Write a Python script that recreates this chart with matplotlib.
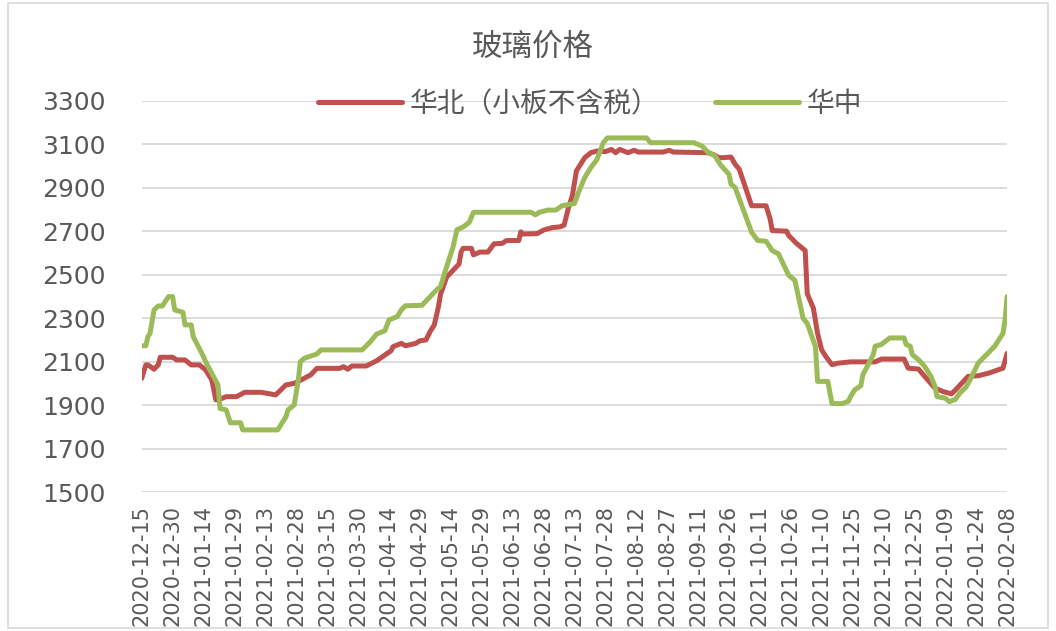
import matplotlib
matplotlib.use("Agg")
import matplotlib.pyplot as plt
from matplotlib.patches import Rectangle

plt.rcParams['font.family'] = ['Noto Sans CJK SC', 'DejaVu Sans']

# x positions: days since 2020-12-15
north_day = [0, 2, 3, 6, 8, 9, 15, 17, 21, 24, 28, 31, 34, 36, 39, 41, 46, 50, 58, 65,
             70, 74, 78, 82, 85, 96, 98, 100, 102, 109, 114, 121, 122, 126, 128, 133,
             135, 138, 140, 142, 144, 145, 148, 151, 154, 155, 156, 160, 161, 164, 168,
             171, 175, 177, 183, 184, 185, 192, 195, 199, 203, 205, 207, 209, 211, 213,
             215, 218, 221, 225, 228, 230, 232, 236, 239, 241, 253, 256, 258, 275, 278,
             280, 282, 286, 288, 290, 296, 303, 305, 306, 313, 314, 318, 322, 323, 326,
             328, 330, 332, 335, 338, 344, 356, 359, 370, 372, 377, 380, 385, 389, 393,
             395, 398, 401, 406, 411, 418, 420]
north_val = [2024, 2086, 2086, 2066, 2086, 2121, 2121, 2109, 2109, 2086, 2086, 2063, 2017,
             1925, 1932, 1940, 1940, 1960, 1960, 1948, 1994, 2001, 2020, 2040, 2070, 2070,
             2078, 2066, 2081, 2081, 2105, 2151, 2170, 2185, 2174, 2185, 2197, 2201, 2240,
             2270, 2354, 2410, 2490, 2520, 2550, 2605, 2622, 2622, 2592, 2605, 2605, 2643,
             2645, 2658, 2658, 2698, 2688, 2690, 2706, 2717, 2721, 2729, 2805, 2865, 2979,
             3009, 3039, 3062, 3070, 3067, 3077, 3062, 3077, 3062, 3073, 3065, 3065, 3073,
             3065, 3062, 3051, 3040, 3039, 3042, 3009, 2986, 2818, 2818, 2757, 2704, 2701,
             2681, 2643, 2612, 2414, 2346, 2231, 2155, 2125, 2087, 2094, 2100, 2100, 2113,
             2113, 2071, 2067, 2033, 1979, 1963, 1953, 1971, 2002, 2033, 2036, 2048, 2071,
             2139]

central_day = [0, 2, 3, 4, 6, 8, 10, 13, 15, 16, 20, 21, 24, 25, 30, 31, 34, 37, 38, 41,
               43, 48, 49, 66, 70, 71, 74, 76, 77, 79, 85, 87, 107, 111, 114, 118, 120,
               124, 126, 128, 136, 140, 143, 145, 148, 151, 153, 156, 159, 161, 189, 191,
               193, 197, 201, 204, 210, 212, 215, 218, 221, 224, 226, 245, 247, 268, 272,
               275, 278, 281, 285, 286, 288, 296, 299, 303, 306, 309, 314, 317, 321, 323,
               327, 328, 333, 335, 340, 343, 344, 346, 349, 350, 353, 355, 356, 359, 363,
               370, 371, 373, 374, 377, 380, 383, 385, 386, 390, 392, 395, 397, 400, 402,
               404, 406, 410, 414, 418, 419, 420]
central_val = [2174, 2174, 2216, 2230, 2339, 2357, 2357, 2400, 2400, 2339, 2328, 2270, 2270,
               2216, 2124, 2101, 2047, 1994, 1886, 1879, 1820, 1820, 1787, 1787, 1848, 1879,
               1902, 2017, 2101, 2117, 2136, 2155, 2155, 2193, 2228, 2243, 2293, 2308, 2339,
               2358, 2360, 2400, 2430, 2446, 2538, 2625, 2708, 2720, 2742, 2788, 2788, 2776,
               2788, 2798, 2798, 2818, 2828, 2880, 2948, 2994, 3032, 3108, 3130, 3130, 3108,
               3108, 3092, 3062, 3050, 3005, 2963, 2917, 2902, 2696, 2658, 2655, 2612, 2597,
               2498, 2475, 2300, 2277, 2170, 2010, 2010, 1908, 1908, 1919, 1940, 1971, 1990,
               2041, 2095, 2133, 2172, 2180, 2210, 2210, 2180, 2172, 2133, 2110, 2079, 2033,
               1987, 1940, 1933, 1917, 1928, 1956, 1983, 2017, 2056, 2095, 2133, 2172, 2231,
               2293, 2400]

tick_labels = ['2020-12-15', '2020-12-30', '2021-01-14', '2021-01-29', '2021-02-13',
               '2021-02-28', '2021-03-15', '2021-03-30', '2021-04-14', '2021-04-29',
               '2021-05-14', '2021-05-29', '2021-06-13', '2021-06-28', '2021-07-13',
               '2021-07-28', '2021-08-12', '2021-08-27', '2021-09-11', '2021-09-26',
               '2021-10-11', '2021-10-26', '2021-11-10', '2021-11-25', '2021-12-10',
               '2021-12-25', '2022-01-09', '2022-01-24', '2022-02-08']
y_ticks = [1500, 1700, 1900, 2100, 2300, 2500, 2700, 2900, 3100, 3300]

title = '玻璃价格'
label_north = '华北（小板不含税）'
label_central = '华中'

RED = '#C0504D'
GREEN = '#9BBB59'
TXT = '#595959'
GRID = '#D9D9D9'

fig = plt.figure(figsize=(10.56, 6.31), dpi=100)
ax = fig.add_axes([0.1342, 0.2198, 0.8195, 0.6202])

l1, = ax.plot(north_day, north_val, color=RED, lw=3.6, solid_capstyle='round',
              solid_joinstyle='round', label=label_north, zorder=3)
l2, = ax.plot(central_day, central_val, color=GREEN, lw=3.6, solid_capstyle='round',
              solid_joinstyle='round', label=label_central, zorder=4)

ax.set_xlim(0, 420)
ax.set_ylim(1500, 3300)
ax.set_yticks(y_ticks)
ax.set_yticklabels([str(v) for v in y_ticks], family='DejaVu Sans', fontsize=18, color=TXT)
ax.set_xticks([15 * i for i in range(len(tick_labels))])
ax.set_xticklabels(tick_labels, rotation=90, family='DejaVu Sans', fontsize=15, color=TXT)
ax.tick_params(axis='y', length=0, pad=26)
ax.tick_params(axis='x', length=0, pad=9)
ax.grid(axis='y', color=GRID, lw=1.3)
ax.set_axisbelow(True)
for s in ax.spines.values():
    s.set_visible(False)

fig.text(0.505, 0.925, title, ha='center', va='center', fontsize=22, color=TXT)

fig.legend(handles=[l1, l2], loc='center', bbox_to_anchor=(0.559, 0.835), ncol=2,
           frameon=False, fontsize=20, handlelength=3.0, handletextpad=0.3,
           columnspacing=2.0, labelcolor=TXT, borderpad=0)

fig.patches.append(Rectangle((0.008, 0.005), 0.984, 0.99, transform=fig.transFigure,
                             fill=False, edgecolor=GRID, lw=1.2))

fig.savefig('out.png', dpi=100)
